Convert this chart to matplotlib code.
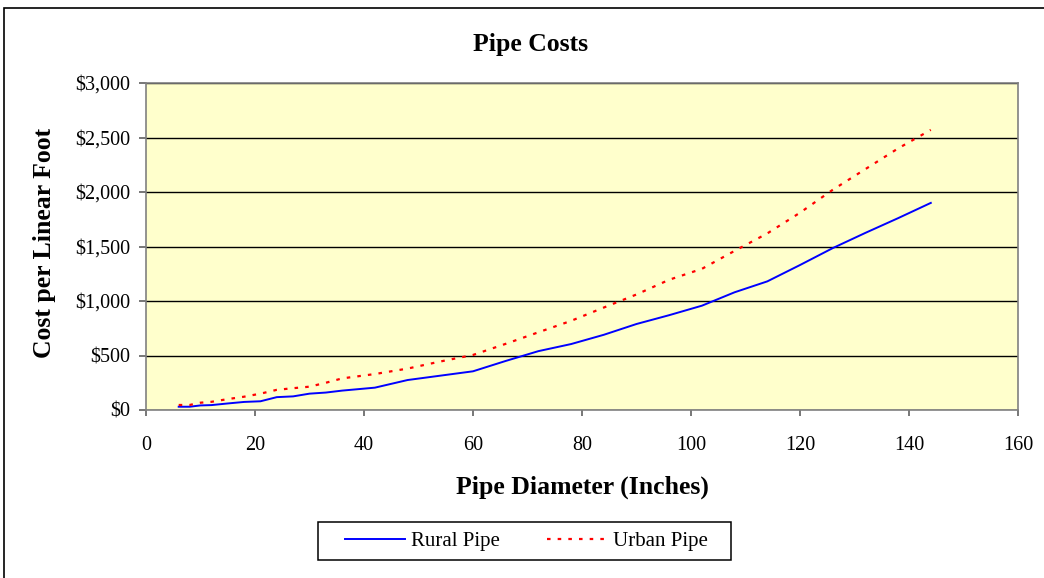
import matplotlib
matplotlib.use("Agg")
import matplotlib.pyplot as plt
from matplotlib.ticker import FuncFormatter, MultipleLocator
from matplotlib.patches import Rectangle

diameters = [6, 8, 10, 12, 15, 18, 21, 24, 27, 30, 33, 36, 42, 48, 54, 60,
             66, 72, 78, 84, 90, 96, 102, 108, 114, 120, 126, 132, 138, 144]
rural = [30, 30, 42, 45, 60, 74, 80, 118, 125, 150, 160, 178, 205, 275, 315, 355,
         450, 540, 605, 690, 789, 870, 957, 1080, 1180, 1330, 1485, 1625, 1760, 1900]
urban = [46, 46, 67, 75, 100, 122, 150, 185, 200, 214, 250, 290, 330, 380, 445, 505,
         607, 713, 818, 940, 1060, 1195, 1295, 1460, 1620, 1810, 2020, 2210, 2400, 2570]

title = "Pipe Costs"
xlabel = "Pipe Diameter (Inches)"
ylabel = "Cost per Linear Foot"

plt.rcParams['font.family'] = ['Liberation Serif', 'DejaVu Serif']

fig = plt.figure(figsize=(10.44, 5.78), dpi=100)
W, H = 1044, 578
ax = fig.add_axes([146 / W, 1 - 410 / H, (1018 - 146) / W, (410 - 83) / H])
ax.set_facecolor('#FFFFCC')

ax.plot(diameters, rural, color='#0000FF', lw=1.4, label='Rural Pipe')
ax.plot(diameters, urban, color='#FF0000', lw=1.6, linestyle=(0, (1.6, 3.2)), label='Urban Pipe')

ax.set_xlim(0, 160)
ax.set_ylim(0, 3000)
ax.xaxis.set_major_locator(MultipleLocator(20))
ax.yaxis.set_major_locator(MultipleLocator(500))
ax.yaxis.set_major_formatter(FuncFormatter(lambda v, p: f"${v:,.0f}"))
ax.grid(axis='y', color='black', lw=1)
ax.set_axisbelow(True)
for s in ax.spines.values():
    s.set_color('#808080')
    s.set_linewidth(1.2)
ax.tick_params(axis='both', direction='out', color='#606060', width=1.2,
               labelsize=14.5, labelcolor='black')
ax.tick_params(axis='x', length=4.5, pad=14)
ax.tick_params(axis='y', length=5, pad=6.5)

fig.text(531 / W, 1 - 45 / H, title, fontsize=18.5, fontweight='bold',
         ha='center', va='center')
xl = ax.set_xlabel(xlabel, fontsize=18.5, fontweight='bold')
xl.set_va('center')
ax.xaxis.set_label_coords(0.5, (410 - 487) / 327)
yl = ax.set_ylabel(ylabel, fontsize=18.5, fontweight='bold')
yl.set_va('center')
yl.set_ha('center')
ax.yaxis.set_label_coords((45 - 146) / 872, (410 - 243) / 327)

leg = ax.legend(loc='center', bbox_to_anchor=(526.5 / W, 1 - 541 / H),
                bbox_transform=fig.transFigure, ncol=2, frameon=False,
                fontsize=15, handlelength=2.9, handletextpad=0.25,
                columnspacing=2.3, borderpad=0.35, borderaxespad=0)
fig.patches.append(Rectangle((318 / W, 1 - 560 / H), (731 - 318) / W, 38 / H,
                             transform=fig.transFigure, fill=False,
                             edgecolor='black', lw=1.1))

fig.patches.append(Rectangle((4 / W, -0.05), 1.2, 1 - 8 / H + 0.05,
                             transform=fig.transFigure, fill=False,
                             edgecolor='black', lw=1.2))

fig.savefig('out.png', dpi=100, facecolor='white')
